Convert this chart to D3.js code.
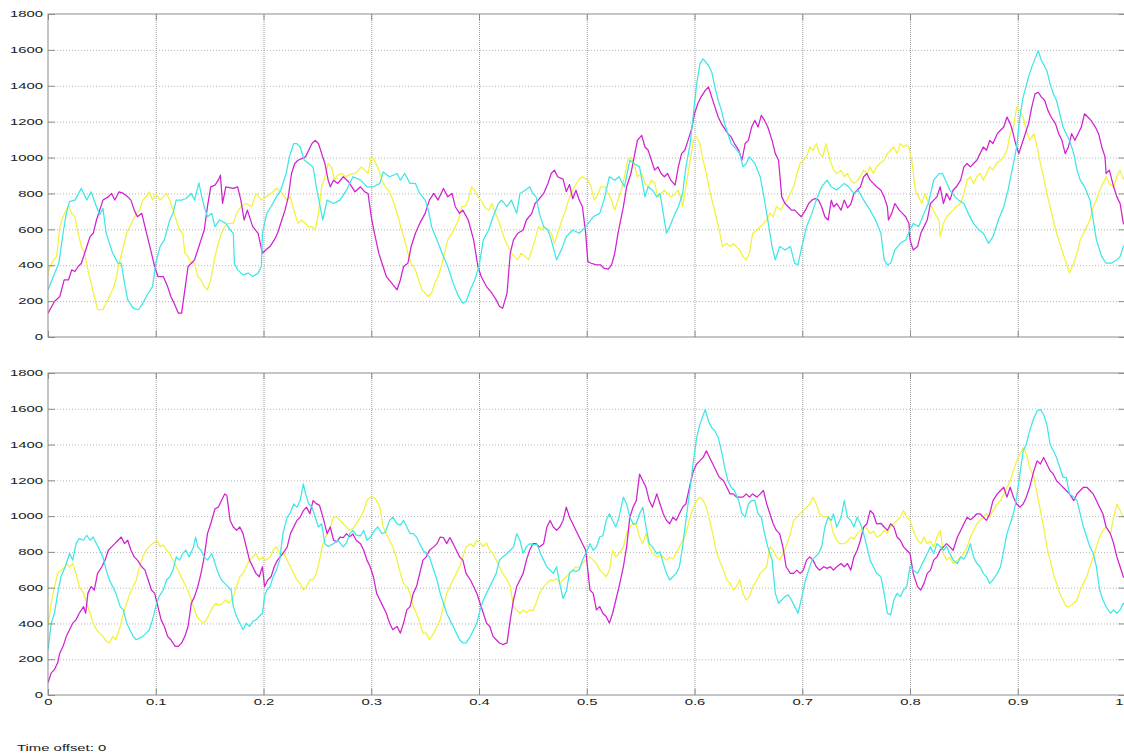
<!DOCTYPE html>
<html>
<head>
<meta charset="utf-8">
<script src="https://cdn.jsdelivr.net/npm/d3@7"></script>
<style>
  body { margin: 0; background: #ffffff; }
  svg { display: block; }
</style>
</head>
<body>
<svg id="chart" width="1124" height="754"></svg>
<script>
// ---- axis ticks ----
const yTickValues = [0, 200, 400, 600, 800, 1000, 1200, 1400, 1600, 1800];
const xTickValues = [0, 0.1, 0.2, 0.3, 0.4, 0.5, 0.6, 0.7, 0.8, 0.9, 1];
const xTickLabels = ["0", "0.1", "0.2", "0.3", "0.4", "0.5", "0.6", "0.7", "0.8", "0.9", "1"];
const footerText = "Time offset: 0";

// ---- upper scope: [time, value] ----
const topYellow = [[0,356],[.002,393],[.005,430],[.008,448],[.011,615],[.014,670],[.017,707],[.019,735],[.022,689],[.025,670],[.028,578],[.031,504],[.034,467],[.037,374],[.040,300],[.043,226],[.046,152],[.051,152],[.054,189],[.057,226],[.060,263],[.063,318],[.066,411],[.070,504],[.073,578],[.076,615],[.079,652],[.082,689],[.085,707],[.088,763],[.091,781],[.094,809],[.097,763],[.100,800],[.104,763],[.107,781],[.110,800],[.113,763],[.116,707],[.119,652],[.122,596],[.125,578],[.127,467],[.130,448],[.133,411],[.136,411],[.139,337],[.142,318],[.145,281],[.148,263],[.151,318],[.155,448],[.158,522],[.161,578],[.164,615],[.167,633],[.172,633],[.175,689],[.179,726],[.184,744],[.189,726],[.193,800],[.198,763],[.202,781],[.207,800],[.212,828],[.215,818],[.222,763],[.225,781],[.229,689],[.232,633],[.235,652],[.239,633],[.242,615],[.245,615],[.248,596],[.251,689],[.254,837],[.257,893],[.260,967],[.263,948],[.266,874],[.269,902],[.273,911],[.276,893],[.279,902],[.282,911],[.285,911],[.288,930],[.291,948],[.294,930],[.297,911],[.300,1004],[.303,985],[.307,930],[.310,874],[.313,837],[.316,818],[.319,781],[.322,726],[.325,670],[.328,596],[.331,541],[.334,467],[.337,411],[.341,374],[.344,318],[.347,263],[.350,244],[.353,226],[.356,244],[.359,300],[.362,337],[.365,393],[.368,467],[.371,541],[.375,578],[.378,615],[.381,652],[.384,726],[.387,726],[.390,763],[.393,837],[.396,818],[.399,781],[.402,763],[.405,726],[.409,707],[.412,744],[.415,689],[.418,652],[.421,596],[.424,541],[.427,504],[.430,467],[.433,448],[.436,430],[.439,467],[.443,448],[.446,430],[.449,485],[.452,541],[.455,615],[.458,596],[.461,615],[.464,596],[.467,578],[.470,522],[.473,578],[.477,652],[.480,700],[.483,760],[.487,820],[.490,850],[.492,874],[.496,893],[.501,874],[.504,837],[.507,763],[.510,790],[.513,837],[.517,837],[.520,800],[.523,763],[.526,707],[.529,763],[.532,818],[.535,893],[.538,985],[.541,1004],[.544,967],[.547,893],[.551,911],[.554,856],[.557,837],[.560,874],[.563,860],[.566,781],[.569,800],[.572,818],[.575,800],[.578,781],[.581,790],[.585,818],[.588,763],[.589,726],[.592,837],[.595,948],[.599,1096],[.602,1115],[.605,1078],[.608,985],[.611,911],[.614,818],[.617,744],[.620,670],[.623,596],[.626,504],[.630,522],[.633,504],[.636,520],[.639,504],[.642,485],[.645,448],[.648,430],[.651,467],[.654,578],[.658,596],[.661,615],[.664,633],[.667,652],[.670,689],[.673,670],[.676,726],[.680,707],[.683,744],[.686,763],[.689,800],[.692,837],[.695,911],[.698,967],[.701,985],[.704,1004],[.707,1059],[.710,1041],[.713,1078],[.716,1022],[.719,1004],[.722,1078],[.726,985],[.729,930],[.732,911],[.736,930],[.739,893],[.742,911],[.745,874],[.748,856],[.751,870],[.754,893],[.757,930],[.760,911],[.763,948],[.766,911],[.769,948],[.772,967],[.776,985],[.779,1022],[.782,1041],[.785,1059],[.788,1022],[.791,1078],[.794,1059],[.797,1070],[.799,1059],[.802,967],[.805,818],[.808,781],[.811,744],[.814,800],[.817,744],[.820,726],[.823,689],[.827,652],[.828,559],[.831,633],[.834,670],[.837,689],[.840,707],[.843,726],[.847,744],[.850,800],[.853,874],[.856,893],[.859,856],[.862,893],[.865,911],[.868,874],[.871,911],[.874,948],[.877,930],[.880,967],[.884,985],[.887,1004],[.890,1041],[.893,1133],[.896,1170],[.899,1281],[.902,1263],[.905,1226],[.908,1152],[.911,1096],[.915,1133],[.918,1059],[.921,967],[.924,893],[.927,800],[.930,726],[.933,652],[.936,578],[.939,522],[.942,467],[.945,411],[.948,356],[.952,411],[.955,467],[.958,541],[.961,578],[.964,615],[.967,652],[.970,726],[.973,763],[.976,818],[.979,856],[.982,893],[.985,856],[.989,837],[.992,893],[.995,930],[.998,880],[1,900]];

const topMagenta = [[0,133],[.006,198],[.011,226],[.015,318],[.019,318],[.022,374],[.025,365],[.028,393],[.031,411],[.034,467],[.039,559],[.042,578],[.045,652],[.048,707],[.051,763],[.056,781],[.059,800],[.062,763],[.066,809],[.070,800],[.074,781],[.077,763],[.080,707],[.083,670],[.087,689],[.090,615],[.093,541],[.096,467],[.099,393],[.102,337],[.107,337],[.111,281],[.114,226],[.117,189],[.121,133],[.124,133],[.127,263],[.130,393],[.133,411],[.136,430],[.139,485],[.142,541],[.145,596],[.148,726],[.151,837],[.155,846],[.158,874],[.160,902],[.162,744],[.165,837],[.172,828],[.176,837],[.179,763],[.182,652],[.185,707],[.190,615],[.195,578],[.199,467],[.202,485],[.206,504],[.210,541],[.213,578],[.217,652],[.220,707],[.223,781],[.226,911],[.229,967],[.232,985],[.239,1004],[.245,1078],[.248,1096],[.251,1078],[.254,1022],[.257,967],[.260,874],[.262,837],[.265,874],[.269,856],[.274,893],[.279,865],[.282,837],[.285,809],[.290,837],[.294,809],[.297,800],[.300,670],[.303,578],[.307,467],[.311,393],[.314,337],[.319,300],[.324,263],[.327,318],[.330,393],[.334,411],[.337,504],[.341,578],[.345,633],[.350,689],[.354,763],[.358,800],[.362,763],[.367,828],[.371,781],[.375,800],[.378,726],[.382,689],[.385,707],[.390,652],[.395,541],[.399,393],[.402,337],[.407,281],[.412,244],[.416,207],[.419,170],[.422,161],[.426,244],[.429,467],[.432,541],[.436,578],[.441,596],[.444,652],[.449,689],[.452,744],[.455,763],[.460,800],[.464,856],[.467,911],[.470,930],[.473,893],[.478,880],[.481,810],[.484,850],[.487,770],[.490,818],[.493,763],[.496,726],[.499,578],[.501,420],[.504,411],[.509,402],[.513,402],[.516,383],[.520,378],[.523,402],[.526,467],[.529,578],[.534,726],[.537,837],[.541,911],[.544,1004],[.547,1096],[.551,1124],[.554,1059],[.557,1041],[.560,985],[.563,930],[.566,948],[.569,911],[.572,893],[.575,911],[.578,874],[.582,846],[.585,948],[.588,1022],[.591,1041],[.594,1096],[.597,1152],[.600,1244],[.603,1300],[.606,1337],[.610,1374],[.613,1393],[.616,1337],[.619,1281],[.622,1226],[.625,1189],[.628,1161],[.631,1133],[.634,1115],[.637,1078],[.641,1041],[.644,985],[.647,1078],[.650,1096],[.653,1170],[.656,1207],[.659,1170],[.662,1235],[.665,1207],[.668,1170],[.672,1096],[.675,1022],[.678,985],[.681,781],[.684,744],[.687,726],[.690,707],[.693,707],[.696,689],[.699,670],[.703,707],[.706,744],[.709,763],[.712,772],[.715,763],[.718,726],[.721,670],[.724,652],[.727,763],[.729,726],[.732,744],[.736,707],[.739,763],[.742,720],[.745,740],[.748,800],[.751,818],[.754,837],[.757,893],[.760,911],[.763,874],[.766,856],[.769,837],[.773,818],[.776,781],[.779,726],[.780,652],[.783,689],[.786,744],[.790,707],[.793,689],[.796,670],[.799,633],[.800,541],[.803,485],[.807,504],[.810,578],[.813,615],[.816,652],[.819,744],[.822,763],[.825,781],[.828,837],[.831,744],[.834,800],[.837,763],[.840,818],[.843,837],[.847,874],[.850,948],[.853,967],[.856,948],[.859,967],[.862,985],[.865,1022],[.868,1059],[.871,1041],[.874,1096],[.877,1078],[.881,1133],[.884,1152],[.887,1170],[.890,1226],[.893,1189],[.895,1152],[.898,1078],[.901,1022],[.904,1078],[.907,1133],[.910,1189],[.913,1281],[.916,1355],[.919,1364],[.922,1337],[.925,1318],[.928,1263],[.931,1226],[.935,1189],[.938,1133],[.941,1096],[.944,1022],[.947,1059],[.950,1133],[.953,1096],[.956,1133],[.959,1170],[.962,1244],[.965,1226],[.968,1207],[.972,1170],[.975,1133],[.978,1059],[.981,1004],[.982,911],[.985,930],[.989,837],[.992,781],[.995,744],[.998,633],[1,620]];

const topCyan = [[0,263],[.005,337],[.010,411],[.014,578],[.017,689],[.020,754],[.025,763],[.031,828],[.036,763],[.040,809],[.045,726],[.048,680],[.051,717],[.054,578],[.060,467],[.065,411],[.068,411],[.071,300],[.074,207],[.079,161],[.084,152],[.088,189],[.093,244],[.097,281],[.100,411],[.104,504],[.108,541],[.113,652],[.116,689],[.119,763],[.124,763],[.128,772],[.133,800],[.136,763],[.140,859],[.142,800],[.145,726],[.148,670],[.152,689],[.155,615],[.159,652],[.165,633],[.169,596],[.172,578],[.173,411],[.176,374],[.181,346],[.186,356],[.190,337],[.195,356],[.198,393],[.199,578],[.203,689],[.207,726],[.212,781],[.216,819],[.221,911],[.224,1004],[.228,1078],[.231,1078],[.234,1059],[.238,985],[.242,967],[.246,948],[.249,837],[.252,744],[.255,652],[.259,763],[.265,744],[.271,763],[.277,818],[.283,893],[.290,874],[.296,837],[.302,837],[.308,856],[.311,920],[.317,893],[.324,911],[.327,874],[.331,911],[.336,856],[.341,856],[.345,800],[.350,763],[.353,707],[.356,615],[.361,541],[.367,448],[.371,393],[.376,300],[.381,226],[.385,189],[.388,198],[.392,263],[.396,318],[.400,393],[.404,541],[.409,596],[.413,670],[.418,744],[.421,763],[.426,726],[.430,763],[.435,689],[.438,800],[.443,818],[.447,837],[.450,800],[.453,781],[.456,689],[.460,615],[.464,596],[.467,541],[.472,430],[.476,480],[.481,559],[.487,596],[.493,578],[.499,615],[.506,670],[.512,689],[.516,763],[.521,893],[.526,874],[.530,893],[.535,837],[.540,985],[.544,967],[.549,948],[.554,781],[.557,837],[.561,818],[.565,781],[.568,800],[.571,689],[.574,578],[.577,615],[.582,689],[.585,726],[.589,800],[.592,948],[.596,1078],[.599,1244],[.602,1411],[.605,1522],[.608,1550],[.613,1513],[.616,1476],[.619,1393],[.622,1318],[.625,1263],[.628,1189],[.631,1133],[.634,1078],[.637,1059],[.642,1022],[.645,948],[.648,967],[.651,1004],[.656,967],[.661,893],[.665,763],[.668,652],[.672,504],[.675,430],[.679,504],[.684,485],[.689,504],[.693,411],[.696,402],[.699,485],[.704,615],[.709,689],[.713,763],[.718,837],[.723,874],[.727,837],[.732,819],[.739,856],[.743,837],[.748,800],[.752,818],[.757,763],[.763,707],[.768,652],[.773,578],[.776,430],[.779,402],[.782,411],[.786,485],[.791,522],[.796,541],[.800,596],[.803,633],[.808,615],[.813,689],[.817,744],[.822,874],[.827,911],[.830,911],[.833,874],[.837,818],[.842,781],[.845,763],[.850,744],[.854,689],[.859,633],[.864,596],[.868,578],[.873,522],[.877,559],[.882,652],[.887,726],[.891,818],[.896,967],[.899,1059],[.902,1226],[.905,1337],[.910,1448],[.913,1504],[.916,1550],[.919,1596],[.922,1541],[.927,1485],[.930,1411],[.933,1355],[.936,1318],[.939,1244],[.942,1170],[.945,1133],[.948,1096],[.952,1022],[.955,930],[.958,874],[.962,837],[.967,763],[.970,652],[.973,541],[.978,448],[.982,411],[.987,411],[.992,430],[.995,448],[.998,504],[1,520]];

// ---- lower scope: [time, value] ----
const bottomYellow = [[0,383],[.003,513],[.006,606],[.009,680],[.012,698],[.016,717],[.017,735],[.020,717],[.023,735],[.026,680],[.029,606],[.033,568],[.036,513],[.039,457],[.042,402],[.045,365],[.048,346],[.051,328],[.054,300],[.057,291],[.060,328],[.063,309],[.067,383],[.070,457],[.073,513],[.076,568],[.079,606],[.082,643],[.085,717],[.088,772],[.091,809],[.094,828],[.097,846],[.101,865],[.104,828],[.107,840],[.110,809],[.113,791],[.116,754],[.119,717],[.122,680],[.125,643],[.128,606],[.131,568],[.135,494],[.138,439],[.141,420],[.144,402],[.147,420],[.150,457],[.153,494],[.156,513],[.159,500],[.162,513],[.165,531],[.168,513],[.172,550],[.175,606],[.178,661],[.181,680],[.184,717],[.187,754],[.190,772],[.193,791],[.196,754],[.199,770],[.202,754],[.206,770],[.209,809],[.212,828],[.215,791],[.218,800],[.222,754],[.225,717],[.228,680],[.231,643],[.234,624],[.237,587],[.240,606],[.243,643],[.246,643],[.249,680],[.252,754],[.255,846],[.259,902],[.262,939],[.265,994],[.268,994],[.271,976],[.274,957],[.277,939],[.280,920],[.283,930],[.286,957],[.290,994],[.293,1031],[.296,1087],[.299,1106],[.302,1106],[.305,1087],[.308,1050],[.311,939],[.314,902],[.317,865],[.320,828],[.324,754],[.327,680],[.330,624],[.333,606],[.336,568],[.339,494],[.342,457],[.345,402],[.348,346],[.351,346],[.354,309],[.358,346],[.361,383],[.364,420],[.367,494],[.370,568],[.373,606],[.376,643],[.379,680],[.382,717],[.385,772],[.388,828],[.392,846],[.395,830],[.398,865],[.401,850],[.404,830],[.407,850],[.410,809],[.413,791],[.416,754],[.419,717],[.422,680],[.426,643],[.429,606],[.432,494],[.435,476],[.438,457],[.441,476],[.444,460],[.447,476],[.450,470],[.453,513],[.456,568],[.460,606],[.463,624],[.466,643],[.469,640],[.472,650],[.475,624],[.478,643],[.481,661],[.484,680],[.487,698],[.490,717],[.493,710],[.496,735],[.499,754],[.503,772],[.506,754],[.509,735],[.512,698],[.515,680],[.518,661],[.521,698],[.524,809],[.527,772],[.530,791],[.534,828],[.537,902],[.540,939],[.543,957],[.546,950],[.549,883],[.552,846],[.555,902],[.558,828],[.561,791],[.565,772],[.568,780],[.571,772],[.574,754],[.577,770],[.580,760],[.583,791],[.586,828],[.589,865],[.592,902],[.596,994],[.599,1050],[.602,1087],[.605,1106],[.608,1087],[.611,1050],[.614,976],[.617,902],[.620,809],[.623,754],[.627,698],[.630,643],[.633,624],[.636,587],[.639,606],[.642,643],[.645,568],[.648,531],[.651,550],[.654,606],[.658,643],[.661,680],[.664,698],[.667,717],[.670,828],[.673,809],[.676,772],[.679,754],[.682,791],[.685,828],[.689,902],[.692,976],[.695,994],[.698,1013],[.701,1031],[.704,1050],[.707,1068],[.710,1106],[.713,1068],[.716,1013],[.720,994],[.723,1000],[.726,976],[.729,902],[.732,865],[.735,846],[.739,846],[.742,860],[.745,883],[.748,870],[.751,902],[.754,920],[.757,939],[.760,930],[.763,902],[.766,915],[.769,883],[.773,895],[.776,920],[.779,905],[.782,939],[.785,957],[.788,976],[.791,994],[.794,1031],[.797,994],[.800,976],[.803,920],[.807,865],[.810,846],[.813,883],[.816,846],[.819,860],[.822,828],[.825,883],[.828,920],[.831,791],[.834,754],[.837,772],[.840,735],[.844,754],[.847,770],[.850,791],[.853,828],[.856,883],[.859,920],[.862,957],[.865,976],[.868,994],[.871,1013],[.874,994],[.877,1031],[.881,1068],[.884,1087],[.887,1124],[.890,1161],[.893,1198],[.896,1254],[.899,1309],[.902,1346],[.905,1383],[.908,1346],[.911,1272],[.915,1217],[.918,1124],[.921,1031],[.924,939],[.927,828],[.930,754],[.933,680],[.936,624],[.939,568],[.942,531],[.945,494],[.948,494],[.952,513],[.955,531],[.958,587],[.961,624],[.964,661],[.967,717],[.970,772],[.973,828],[.976,883],[.979,920],[.982,939],[.986,902],[.989,994],[.992,1068],[.995,1031],[.998,994],[1,990]];

const bottomMagenta = [[0,68],[.003,124],[.006,142],[.009,180],[.011,235],[.014,272],[.017,328],[.020,365],[.023,402],[.026,420],[.029,457],[.033,494],[.035,457],[.037,568],[.040,606],[.043,587],[.046,680],[.050,717],[.053,754],[.056,809],[.059,828],[.062,846],[.065,865],[.068,883],[.071,846],[.074,865],[.077,809],[.080,772],[.083,754],[.087,717],[.090,698],[.093,643],[.096,587],[.099,568],[.102,494],[.105,420],[.108,383],[.111,328],[.114,309],[.118,272],[.121,272],[.124,291],[.127,328],[.130,383],[.133,513],[.136,550],[.139,606],[.142,680],[.145,772],[.148,902],[.151,957],[.155,1041],[.158,1050],[.161,1087],[.164,1124],[.166,1115],[.169,976],[.172,939],[.175,920],[.178,939],[.181,902],[.184,828],[.187,754],[.190,717],[.193,680],[.196,661],[.199,717],[.201,606],[.204,643],[.207,661],[.210,717],[.213,754],[.218,791],[.222,828],[.225,902],[.228,939],[.231,976],[.234,994],[.237,1031],[.240,1050],[.243,1013],[.246,1087],[.249,1070],[.252,1060],[.256,976],[.259,902],[.262,939],[.265,865],[.268,856],[.271,883],[.274,880],[.277,902],[.280,885],[.283,900],[.286,865],[.290,846],[.293,809],[.296,754],[.299,717],[.302,661],[.305,568],[.308,531],[.311,494],[.314,457],[.317,402],[.320,365],[.324,383],[.327,346],[.330,402],[.333,476],[.336,494],[.339,568],[.342,606],[.345,680],[.348,754],[.351,772],[.354,809],[.358,828],[.361,846],[.364,883],[.367,880],[.370,846],[.373,880],[.376,846],[.379,809],[.382,772],[.385,754],[.388,680],[.392,643],[.395,606],[.398,568],[.401,513],[.404,457],[.407,402],[.410,383],[.413,328],[.416,309],[.419,291],[.422,282],[.426,291],[.429,420],[.432,531],[.435,606],[.438,643],[.441,680],[.444,754],[.447,809],[.450,846],[.453,846],[.456,828],[.460,846],[.463,939],[.466,976],[.469,939],[.472,920],[.475,939],[.478,976],[.481,1050],[.484,994],[.487,957],[.490,920],[.493,883],[.496,846],[.499,809],[.503,587],[.506,568],[.509,476],[.512,494],[.515,457],[.518,439],[.521,402],[.524,457],[.527,531],[.530,606],[.534,717],[.537,828],[.540,994],[.543,1050],[.546,1087],[.549,1235],[.552,1198],[.555,1161],[.558,1087],[.561,1050],[.565,1124],[.568,1068],[.571,1013],[.574,976],[.577,957],[.580,994],[.583,976],[.586,1013],[.589,1050],[.592,1068],[.596,1180],[.599,1254],[.602,1291],[.605,1309],[.608,1328],[.611,1365],[.614,1328],[.617,1291],[.620,1254],[.623,1217],[.627,1198],[.630,1161],[.633,1124],[.636,1124],[.639,1106],[.642,1106],[.645,1106],[.648,1124],[.651,1106],[.654,1124],[.658,1106],[.661,1124],[.664,1143],[.667,1068],[.670,1013],[.673,957],[.676,920],[.679,902],[.682,828],[.685,717],[.689,680],[.692,680],[.695,698],[.698,680],[.701,698],[.704,754],[.707,772],[.710,754],[.713,717],[.716,698],[.720,717],[.723,708],[.726,717],[.729,698],[.732,717],[.736,735],[.739,717],[.742,735],[.745,698],[.748,772],[.751,809],[.754,865],[.757,939],[.760,957],[.763,1031],[.766,1013],[.769,957],[.773,960],[.776,939],[.779,920],[.782,957],[.785,940],[.788,883],[.791,865],[.794,828],[.797,809],[.800,791],[.803,680],[.807,606],[.810,587],[.813,624],[.816,680],[.819,698],[.822,754],[.825,772],[.828,809],[.831,828],[.834,846],[.837,828],[.840,809],[.844,883],[.847,920],[.850,957],[.853,994],[.856,980],[.859,994],[.862,1013],[.865,1013],[.868,994],[.871,976],[.874,1013],[.877,1087],[.881,1124],[.884,1143],[.887,1161],[.890,1106],[.893,1161],[.896,1106],[.899,1068],[.902,1050],[.905,1068],[.908,1106],[.911,1161],[.915,1254],[.918,1309],[.921,1291],[.924,1328],[.927,1291],[.930,1254],[.933,1235],[.936,1198],[.939,1180],[.942,1161],[.945,1143],[.948,1124],[.952,1087],[.955,1124],[.958,1143],[.961,1161],[.964,1161],[.967,1143],[.970,1124],[.973,1087],[.976,1050],[.979,1013],[.982,939],[.986,902],[.989,846],[.992,772],[.995,717],[.998,661],[1,650]];

const bottomCyan = [[0,254],[.003,402],[.006,457],[.009,568],[.012,661],[.016,717],[.020,791],[.023,754],[.026,846],[.029,874],[.033,865],[.036,893],[.039,865],[.042,883],[.045,846],[.048,809],[.051,772],[.054,698],[.057,643],[.060,606],[.063,568],[.067,494],[.070,476],[.073,402],[.076,365],[.079,328],[.082,309],[.085,318],[.088,328],[.091,346],[.094,365],[.097,420],[.100,494],[.103,550],[.107,587],[.110,643],[.113,661],[.116,698],[.119,772],[.122,754],[.125,791],[.128,809],[.131,772],[.135,828],[.137,883],[.139,828],[.142,809],[.145,772],[.148,754],[.152,791],[.155,735],[.158,680],[.161,643],[.164,624],[.167,606],[.170,587],[.172,494],[.175,439],[.178,402],[.181,365],[.184,402],[.187,383],[.190,411],[.193,420],[.196,439],[.199,457],[.201,550],[.203,587],[.206,606],[.209,661],[.212,698],[.215,754],[.218,902],[.222,994],[.225,1020],[.228,1068],[.231,1050],[.234,1087],[.237,1180],[.239,1124],[.242,1068],[.245,1050],[.248,994],[.251,939],[.254,957],[.257,846],[.260,830],[.265,846],[.269,865],[.274,828],[.277,850],[.280,902],[.283,920],[.286,894],[.290,890],[.293,920],[.296,865],[.299,880],[.303,920],[.306,939],[.310,902],[.313,910],[.317,976],[.320,994],[.324,957],[.327,950],[.330,976],[.333,939],[.336,902],[.339,902],[.342,883],[.345,846],[.348,809],[.351,791],[.354,772],[.357,717],[.361,643],[.364,568],[.367,513],[.370,457],[.373,420],[.376,383],[.379,346],[.382,309],[.385,291],[.388,291],[.392,328],[.395,365],[.398,402],[.401,476],[.404,531],[.407,568],[.410,606],[.413,643],[.416,680],[.419,754],[.422,772],[.426,791],[.429,809],[.432,828],[.435,902],[.438,865],[.441,791],[.444,828],[.447,846],[.450,840],[.454,840],[.457,791],[.460,754],[.463,717],[.466,698],[.469,680],[.472,717],[.475,620],[.478,540],[.481,580],[.484,680],[.487,698],[.490,690],[.493,700],[.496,754],[.499,791],[.503,846],[.506,809],[.509,828],[.512,883],[.515,890],[.518,976],[.521,1013],[.524,976],[.527,939],[.530,994],[.534,1106],[.537,1068],[.540,994],[.543,957],[.546,960],[.549,1013],[.552,1050],[.555,939],[.558,846],[.561,828],[.565,791],[.568,800],[.571,735],[.574,680],[.577,643],[.580,661],[.583,680],[.586,717],[.589,828],[.592,976],[.596,1161],[.599,1309],[.602,1439],[.605,1513],[.610,1596],[.613,1531],[.616,1494],[.619,1476],[.622,1439],[.625,1365],[.628,1272],[.631,1198],[.634,1161],[.637,1143],[.641,1087],[.644,1013],[.647,994],[.650,1068],[.653,1087],[.656,1087],[.659,1013],[.662,994],[.665,902],[.668,828],[.672,754],[.675,568],[.678,513],[.681,531],[.684,550],[.687,560],[.690,531],[.693,494],[.696,457],[.699,531],[.703,643],[.706,698],[.709,754],[.712,772],[.715,791],[.718,828],[.721,939],[.724,994],[.727,976],[.729,1013],[.732,939],[.736,994],[.739,1087],[.742,994],[.745,976],[.748,939],[.751,994],[.754,957],[.757,902],[.760,828],[.763,754],[.766,717],[.769,680],[.773,661],[.776,568],[.779,457],[.782,448],[.785,531],[.788,568],[.791,550],[.794,587],[.797,606],[.800,717],[.803,698],[.807,680],[.810,717],[.813,754],[.816,791],[.819,828],[.822,791],[.825,846],[.828,830],[.831,809],[.834,830],[.837,791],[.840,754],[.844,735],[.847,772],[.850,760],[.853,791],[.856,846],[.859,772],[.862,735],[.865,717],[.868,680],[.871,661],[.874,624],[.877,643],[.881,680],[.884,717],[.887,809],[.890,902],[.893,957],[.896,1013],[.899,1106],[.902,1235],[.905,1365],[.908,1402],[.911,1476],[.915,1550],[.918,1587],[.921,1596],[.924,1568],[.927,1513],[.930,1402],[.933,1365],[.936,1328],[.939,1272],[.942,1217],[.945,1217],[.948,1124],[.952,1106],[.955,1087],[.958,1013],[.961,939],[.964,883],[.967,828],[.970,791],[.973,717],[.976,587],[.979,531],[.982,494],[.986,457],[.989,476],[.992,457],[.995,476],[.998,513],[1,500]];

// ---- drawing ----
const COLORS = { yellow: "#f2f23a", magenta: "#d020d0", cyan: "#3ee6e6" };
const svg = d3.select("#chart");
const X0 = 48, X1 = 1125.5;
const TEXT_STRETCH = 1.75;   // scope labels are drawn wide
const FONT = "'Liberation Sans', Arial, sans-serif";

const x = d3.scaleLinear().domain([0, 1]).range([X0, X1]);

const panels = [
  { top: 14, bottom: 337, labelsX: false,
    series: [[topYellow, COLORS.yellow], [topMagenta, COLORS.magenta], [topCyan, COLORS.cyan]] },
  { top: 373, bottom: 695, labelsX: true,
    series: [[bottomYellow, COLORS.yellow], [bottomMagenta, COLORS.magenta], [bottomCyan, COLORS.cyan]] }
];

function stretchText(sel) {
  sel.selectAll("text").each(function () {
    const t = d3.select(this);
    const xv = +t.attr("x") || 0;
    t.attr("x", xv / TEXT_STRETCH).attr("transform", `scale(${TEXT_STRETCH},1)`);
  });
}

panels.forEach((p, i) => {
  const y = d3.scaleLinear().domain([0, 1800]).range([p.bottom, p.top]);
  const g = svg.append("g");
  const h = p.bottom - p.top;

  // horizontal dotted grid
  g.append("g")
    .attr("transform", `translate(${X0},0)`)
    .call(d3.axisLeft(y).tickValues(yTickValues.slice(1, -1)).tickSize(-(X1 - X0)).tickFormat(""))
    .call(a => a.select(".domain").remove())
    .call(a => a.selectAll("line").attr("stroke", "#b4b4b4").attr("stroke-dasharray", "1,2"));

  // vertical dotted grid
  g.append("g")
    .attr("transform", `translate(0,${p.bottom})`)
    .call(d3.axisBottom(x).tickValues(xTickValues.slice(1, -1)).tickSize(-h).tickFormat(""))
    .call(a => a.select(".domain").remove())
    .call(a => a.selectAll("line").attr("stroke", "#9a9a9a").attr("stroke-dasharray", "1,1"));

  // signals
  const clipId = `plot-clip-${i}`;
  svg.append("clipPath").attr("id", clipId)
    .append("rect").attr("x", X0).attr("y", p.top).attr("width", X1 - X0).attr("height", h);
  const line = d3.line().x(d => x(d[0])).y(d => y(d[1]));
  const lines = g.append("g").attr("clip-path", `url(#${clipId})`);
  p.series.forEach(([data, color]) => {
    lines.append("path").datum(data)
      .attr("d", line)
      .attr("fill", "none")
      .attr("stroke", color)
      .attr("stroke-width", 1.25)
      .attr("stroke-linejoin", "round");
  });

  // frame
  g.append("rect")
    .attr("x", X0).attr("y", p.top).attr("width", X1 - X0).attr("height", h)
    .attr("fill", "none").attr("stroke", "#8c8c8c").attr("stroke-width", 1);

  // inward tick marks + labels
  const left = g.append("g").attr("transform", `translate(${X0},0)`)
    .call(d3.axisLeft(y).tickValues(yTickValues).tickSize(-7).tickPadding(5).tickFormat(d3.format("d")));
  left.select(".domain").remove();
  left.selectAll("line").attr("stroke", "#8c8c8c");
  left.selectAll("text").attr("font-family", FONT).attr("font-size", 8.5).attr("fill", "#1a1a1a");
  stretchText(left);

  const right = g.append("g").attr("transform", `translate(${X1},0)`)
    .call(d3.axisRight(y).tickValues(yTickValues).tickSize(-7).tickFormat(""));
  right.select(".domain").remove();
  right.selectAll("line").attr("stroke", "#8c8c8c");

  const topAx = g.append("g").attr("transform", `translate(0,${p.top})`)
    .call(d3.axisTop(x).tickValues(xTickValues).tickSize(-6).tickFormat(""));
  topAx.select(".domain").remove();
  topAx.selectAll("line").attr("stroke", "#8c8c8c");

  const bottomAx = g.append("g").attr("transform", `translate(0,${p.bottom})`)
    .call(d3.axisBottom(x).tickValues(xTickValues).tickSize(-6).tickPadding(4)
      .tickFormat((d, k) => p.labelsX ? xTickLabels[k] : ""));
  bottomAx.select(".domain").remove();
  bottomAx.selectAll("line").attr("stroke", "#8c8c8c");
  bottomAx.selectAll("text").attr("font-family", FONT).attr("font-size", 8.5).attr("fill", "#1a1a1a")
    .attr("y", 10).attr("dy", 0);
  // the last label sits at the window's right edge: right-align it there
  bottomAx.selectAll("text").filter(d => d === 1)
    .attr("text-anchor", "end").attr("x", -2.5);
  stretchText(bottomAx);
});

svg.append("text")
  .attr("x", 17 / TEXT_STRETCH).attr("y", 751)
  .attr("transform", `scale(${TEXT_STRETCH},1)`)
  .attr("font-family", FONT).attr("font-size", 8.5).attr("fill", "#1a1a1a")
  .text(footerText);
</script>
</body>
</html>
